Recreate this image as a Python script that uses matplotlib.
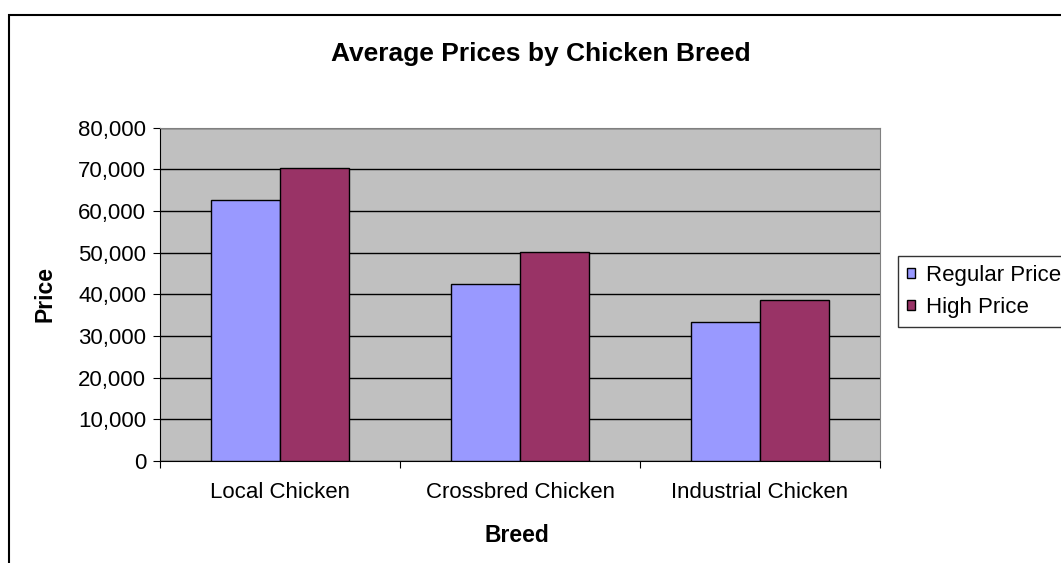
import matplotlib.pyplot as plt
import numpy as np
from matplotlib.patches import Rectangle, Patch
from matplotlib.ticker import FuncFormatter

plt.rcParams['font.family'] = ['Liberation Sans', 'DejaVu Sans']

breeds = ["Local Chicken", "Crossbred Chicken", "Industrial Chicken"]
regular_price = [62600, 42500, 33300]
high_price = [70300, 50100, 38700]

fig = plt.figure(figsize=(10.61, 5.63), dpi=100)
ax = fig.add_axes([160 / 1061, 1 - 461 / 563, 720 / 1061, (461 - 127.6) / 563])

# chart area frame
fig.patches.append(Rectangle((9 / 1061, -0.1), 1.2, 1 - 15 / 563 + 0.1,
                             transform=fig.transFigure, fill=False,
                             edgecolor="black", linewidth=1.5, clip_on=False))

x = np.arange(len(breeds))
w = 0.2875
ax.bar(x - w / 2, regular_price, w, color="#9999FF", edgecolor="black", linewidth=1, zorder=3)
ax.bar(x + w / 2, high_price, w, color="#993366", edgecolor="black", linewidth=1, zorder=3)

ax.set_facecolor("#C0C0C0")
ax.set_xlim(-0.5, 2.5)
ax.set_ylim(0, 80000)
ax.set_yticks(range(0, 80001, 10000))
ax.yaxis.set_major_formatter(FuncFormatter(lambda v, p: f"{int(v):,}"))
ax.yaxis.grid(True, color="black", linewidth=1, zorder=1)

ax.set_xticks([-0.5, 0.5, 1.5, 2.5])
ax.set_xticklabels([])
ax.set_xticks(x, minor=True)
ax.set_xticklabels(breeds, minor=True, fontsize=16)
ax.tick_params(axis="x", which="minor", length=0, pad=15)
ax.tick_params(axis="x", which="major", length=5, color="black")
ax.tick_params(axis="y", length=5, labelsize=16, pad=5)

for s in ["top", "right"]:
    ax.spines[s].set_color("#808080")
ax.spines["left"].set_color("black")
ax.spines["bottom"].set_color("black")

fig.text(45 / 1061, 1 - 294 / 563, "Price", rotation=90, ha="center", va="center",
         fontsize=16.5, fontweight="bold")
fig.text(517 / 1061, 1 - 535 / 563, "Breed", ha="center", va="center",
         fontsize=16.5, fontweight="bold")

fig.text(541 / 1061, 1 - 54 / 563, "Average Prices by Chicken Breed",
         ha="center", va="center", fontsize=19, fontweight="bold")

handles = [Patch(facecolor="#9999FF", edgecolor="black", label="Regular Price"),
           Patch(facecolor="#993366", edgecolor="black", label="High Price")]
fig.legend(handles=handles, loc="upper left", bbox_to_anchor=(898 / 1061, 1 - 256 / 563),
           fontsize=16, frameon=True, fancybox=False, edgecolor="black",
           handlelength=0.35, handleheight=0.35, handletextpad=0.5, borderaxespad=0,
           borderpad=0.4, labelspacing=0.5)

fig.savefig("out.png", dpi=100)
